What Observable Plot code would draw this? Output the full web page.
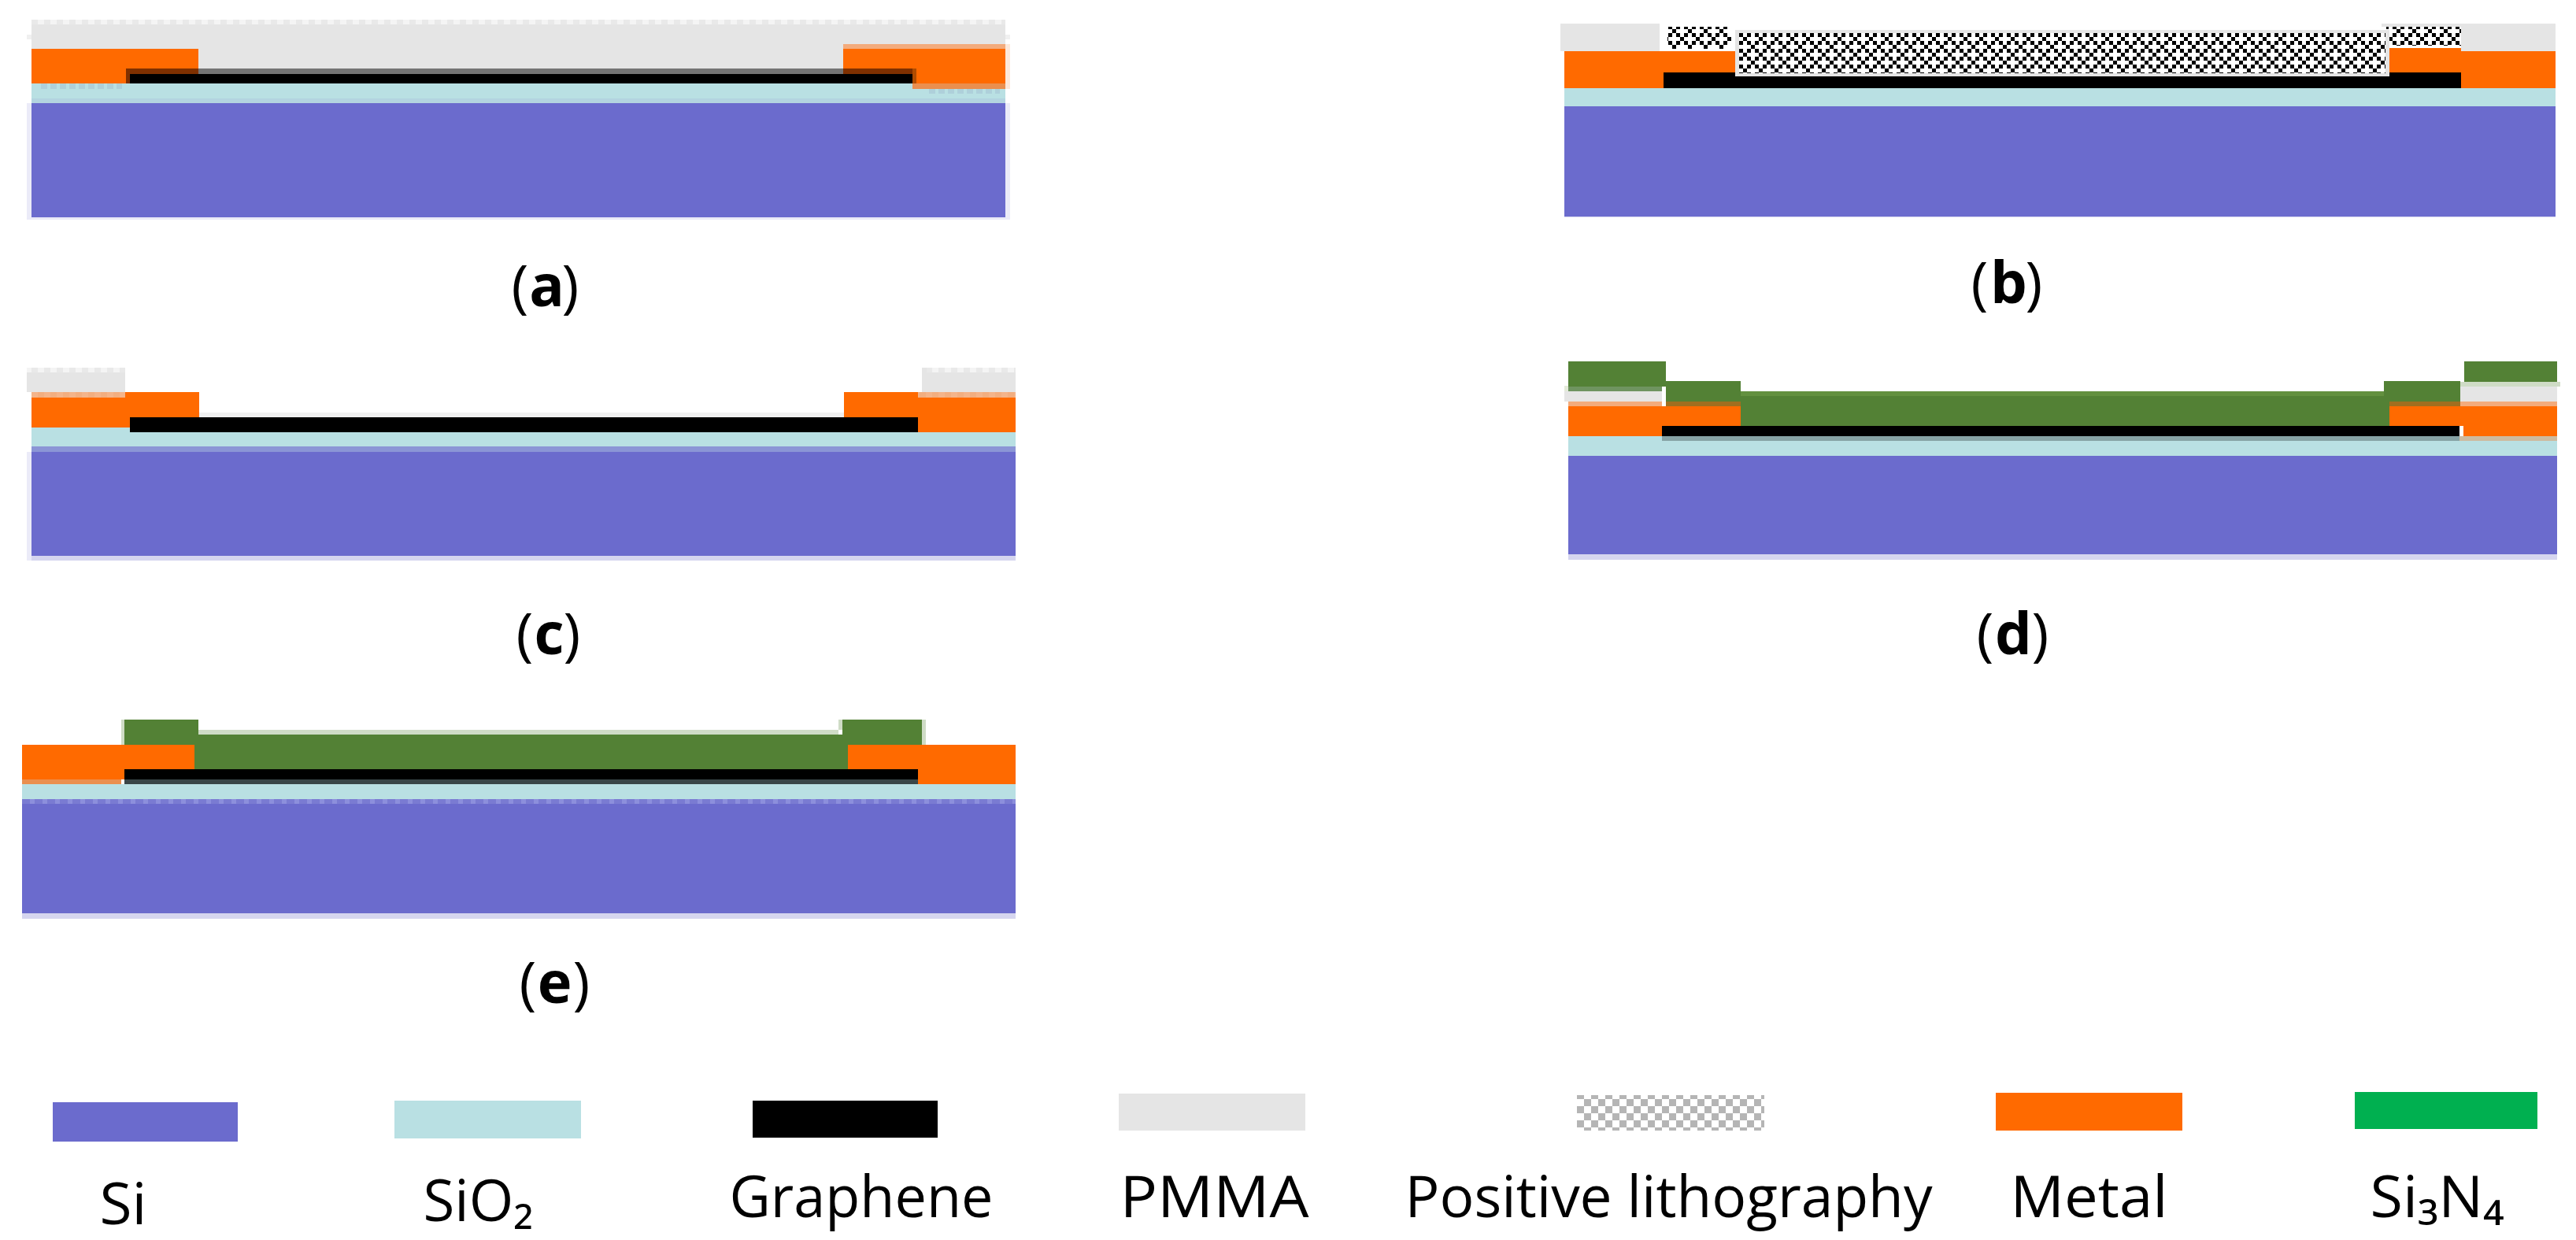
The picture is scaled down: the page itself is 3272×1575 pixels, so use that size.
<!DOCTYPE html>
<html>
<head>
<meta charset="utf-8">
<script src="https://cdn.jsdelivr.net/npm/d3@7"></script>
<script src="https://cdn.jsdelivr.net/npm/@observablehq/plot@0.6"></script>
<style>
  html, body { margin: 0; padding: 0; background: #fff; overflow: hidden; }
  svg { display: block; }
</style>
</head>
<body>
<div id="chart"></div>
<script>
// Material fills
const materialNames = ["Si","SiO2","Graphene","PMMA","Metal","Si3N4","Nitride","White","Resist","ResistLegend",
  "SiHalo","SiEdge","SiBottom","SiTopDash","SiO2Edge","SiO2Dash","PmmaDash","PmmaPale","MetalPale","MetalDash","MetalDeep","MetalFoot",
  "GraphenePmma","GrapheneMetal","GrapheneSilica","GrapheneNitride","TanFoot","NitrideFade","NitrideBrown","NitridePale","NitrideTop","MetalHalo","HaloGreen"];
const materialFills = ["#6b6bcd","#b9e0e3","#000000","#e5e5e5","#ff6a00","#00b050","#538135","#ffffff","url(#resist)","url(#checker)",
  "#ebebf8","#8b95d6","#d5d5ef","url(#siDash)","#b3d4e0","url(#silicaDash)","url(#pmmaDash)","#f0f0f0","#f3ab7c","url(#metalDash)","#b04c00","#ea8f4f",
  "#747474","#7f3000","#87a3a5","#394648","#cdbba0","#6f9460","#a06f20","#cfdcc6","#63903f","#fde8da","#e3ead9"];

// Cross-section layers: [material, x1, x2, y1, y2]
const panelA = [
  ["PmmaPale",34,1283,44,50],["SiHalo",34,1283,131,279],
  ["PmmaDash",40,1277,25,31],["PMMA",40,1277,31,87],
  ["Si",40,1277,131,276],["SiO2",40,1277,106,125],["SiO2Edge",40,1277,125,131],["SiO2Dash",52,155,106,113],
  ["MetalHalo",1277,1283,56,113],
  ["Metal",40,252,62,94],["Metal",40,160,94,106],["GrapheneMetal",160,252,87,94],["GrapheneMetal",160,165,94,106],
  ["Graphene",165,1159,94,106],["GraphenePmma",252,1071,87,94],["GrapheneMetal",1071,1159,87,94],
  ["MetalPale",1071,1277,56,62],["Metal",1071,1277,62,87],["Metal",1159,1277,87,106],
  ["MetalDeep",1159,1164,87,106],["MetalFoot",1159,1277,106,113],["SiO2Dash",1177,1270,113,119]
];
const panelB = [
  ["Si",1987,3246,135,275],["SiBottom",1987,3246,275,276],["SiO2",1987,3246,112,135],
  ["Metal",1987,2204,65,92],["Metal",1987,2113,92,112],["Metal",2108,2113,61,65],
  ["Metal",3034,3126,61,92],["Metal",3126,3246,65,112],
  ["Graphene",2113,3126,92,112],
  ["PMMA",1982,2108,30,65],["PMMA",3126,3246,30,65],
  ["White",2108,2204,30,65],["Resist",2118,2199,34,62],
  ["PMMA",3025,3126,30,34],["White",3031,3126,34,61],["Resist",3031,3126,34,58],
  ["PMMA",2204,3035,38,97],["White",2209,3030,42,93],["Resist",2209,3030,42,93]
];
const panelC = [
  ["SiHalo",34,1290,574,712],["PmmaPale",253,1072,524,530],
  ["SiEdge",40,1290,567,574],["Si",40,1290,574,706],["SiBottom",40,1290,706,712],
  ["SiO2",40,1290,549,567],["SiO2",40,165,543,549],
  ["PMMA",34,159,467,498],["PmmaDash",34,159,467,473],
  ["PMMA",1171,1290,467,498],["PmmaDash",1177,1290,467,473],
  ["Metal",40,253,498,530],["Metal",40,165,530,543],["MetalDash",40,159,498,505],
  ["Metal",1072,1290,498,530],["Metal",1166,1290,530,549],["MetalDash",1166,1290,498,505],
  ["Graphene",165,1166,530,549]
];
const panelD = [
  ["SiBottom",1992,3248,704,711],["Si",1992,3248,579,704],["SiO2",1992,3248,554,579],
  ["PMMA",1987,2111,497,510],["PMMA",3125,3248,491,510],
  ["Metal",1992,2211,516,541],["Metal",1992,2111,541,554],["MetalPale",1992,2111,510,516],
  ["Metal",3035,3248,516,541],["Metal",3129,3248,541,554],["MetalPale",3125,3248,510,516],
  ["Nitride",2211,3035,497,541],["NitrideTop",2211,3035,497,503],
  ["Nitride",2116,2211,484,510],["NitrideBrown",2116,2211,510,516],
  ["Nitride",3028,3125,484,510],["NitrideBrown",3035,3125,510,516],
  ["Nitride",1992,2116,459,491],["NitrideFade",1992,2111,491,497],
  ["HaloGreen",1987,1992,490,497],
  ["NitridePale",3125,3252,485,491],["Nitride",3130,3248,459,485],
  ["Graphene",2111,3124,541,554],["GrapheneSilica",2111,3124,554,560],["TanFoot",3124,3248,554,560]
];
const panelE = [
  ["SiBottom",28,1290,1160,1167],["Si",28,1290,1021,1160],["SiTopDash",28,1290,1015,1021],
  ["SiO2",28,1290,996,1015],
  ["NitridePale",252,1065,927,933],
  ["Nitride",247,1077,933,977],
  ["NitridePale",154,158,914,946],["NitridePale",1065,1070,914,927],["NitridePale",1171,1176,914,946],
  ["Nitride",158,252,914,946],["Nitride",1070,1171,914,946],
  ["Metal",28,247,946,977],["Metal",28,158,977,990],["MetalFoot",28,154,990,996],
  ["Metal",1077,1290,946,977],["Metal",1166,1290,977,996],
  ["Graphene",158,1166,977,990],["GrapheneNitride",158,1166,990,996]
];

// Legend
const legendLabels = ["Si","SiO₂","Graphene","PMMA","Positive lithography","Metal","Si₃N₄"];
const legendMaterials = ["Si","SiO2","Graphene","PMMA","ResistLegend","Metal","Si3N4"];
const legendX1 = [67,501,956,1421,2003,2535,2991];
const legendX2 = [302,738,1191,1658,2241,2772,3223];
const legendY1 = [1400,1398,1398,1389,1391,1388,1387];
const legendY2 = [1450,1446,1445,1436,1436,1436,1434];
const legendTextX = [126,537,926,1422,1784,2553,3010];
const legendTextY = [1554,1550,1545,1545,1545,1545,1545];
const legendTextWidth = [60,140,335,240,670,200,170];

// Panel captions
const captionLetters = ["a","b","c","d","e"];
const captionOpenX = [660,2514,666,2521,670];
const captionLetterX = [694,2551,697,2557,704];
const captionCloseX = [724,2583,726,2591,738];
const captionY = [388,384,830,830,1273];

const W = 3272, H = 1575;
const fillOf = new Map(materialNames.map((n, i) => [n, materialFills[i]]));
const layers = [...panelA, ...panelB, ...panelC, ...panelD, ...panelE]
  .map(([m, x1, x2, y1, y2]) => ({m, x1, x2, y1, y2}));
const legendRows = legendLabels.map((label, i) => ({
  label, m: legendMaterials[i], x1: legendX1[i], x2: legendX2[i], y1: legendY1[i], y2: legendY2[i],
  tx: legendTextX[i], ty: legendTextY[i]
}));
const captions = captionLetters.map((c, i) => ({
  c, open: captionOpenX[i], mid: captionLetterX[i], close: captionCloseX[i], y: captionY[i]
}));

const rectOpts = {
  x1: "x1", x2: "x2", y1: "y1", y2: "y2",
  fill: d => fillOf.get(d.m), shapeRendering: "crispEdges"
};
const font = "'Open Sans', sans-serif";
const textOpts = {fontFamily: font, fontSize: 74, lineAnchor: "bottom", fill: "#000"};

const plot = Plot.plot({
  width: W, height: H,
  marginTop: 0, marginRight: 0, marginBottom: 0, marginLeft: 0,
  style: {background: "#fff"},
  x: {type: "linear", domain: [0, W], range: [0, W], axis: null},
  y: {type: "linear", domain: [0, H], range: [0, H], axis: null},
  color: {type: "identity"},
  marks: [
    Plot.rect(layers, rectOpts),
    Plot.rect(legendRows, rectOpts),
    Plot.text(legendRows, {...textOpts, x: "tx", y: "ty", text: "label", textAnchor: "start"}),
    Plot.text(captions, {...textOpts, x: "open", y: "y", text: () => "(", textAnchor: "middle"}),
    Plot.text(captions, {...textOpts, x: "mid", y: "y", text: "c", textAnchor: "middle", fontWeight: 700}),
    Plot.text(captions, {...textOpts, x: "close", y: "y", text: () => ")", textAnchor: "middle"})
  ]
});

// Fit the legend labels to the widths
d3.select(plot).selectAll("text").each(function () {
  const i = legendLabels.indexOf(this.textContent);
  if (i >= 0) {
    this.setAttribute("textLength", legendTextWidth[i]);
    this.setAttribute("lengthAdjust", "spacingAndGlyphs");
  }
});

// Fill patterns for the textured layers
const NS = "http://www.w3.org/2000/svg";
const defs = document.createElementNS(NS, "defs");
function pattern(id, w, h, ox, oy, bg, color, cells) {
  const p = document.createElementNS(NS, "pattern");
  for (const [k, v] of Object.entries({id, width: w, height: h, x: ox, y: oy, patternUnits: "userSpaceOnUse"})) p.setAttribute(k, v);
  const add = (x, y, rw, rh, f) => {
    const r = document.createElementNS(NS, "rect");
    for (const [k, v] of Object.entries({x, y, width: rw, height: rh, fill: f, "shape-rendering": "crispEdges"})) r.setAttribute(k, v);
    p.appendChild(r);
  };
  add(0, 0, w, h, bg);
  for (const [x, y, rw, rh] of cells) add(x, y, rw, rh, color);
  defs.appendChild(p);
}
const c5 = [[0,0],[5,5],[15,5],[10,10],[5,15],[15,15]].map(([x, y]) => [x, y, 5, 5]);
pattern("resist", 20, 20, 2204, 37, "#fff", "#000", c5);
pattern("checker", 18, 18, 2003, 1387, "#fff", "#b5b5b5", [[0,0,9,9],[9,9,9,9]]);
pattern("pmmaDash", 16, 10, 40, 0, "#f4f4f4", "#e9e9e9", [[0,0,8,10]]);
pattern("siDash", 16, 10, 28, 0, "#8c8fdc", "#7a7bd2", [[0,0,10,10]]);
pattern("silicaDash", 12, 10, 52, 0, "#b9e0e3", "#aed0da", [[0,0,8,10]]);
pattern("metalDash", 16, 10, 40, 0, "#f2ae80", "#f4b48a", [[0,0,8,10]]);
plot.insertBefore(defs, plot.firstChild);

document.getElementById("chart").appendChild(plot);
</script>
</body>
</html>
